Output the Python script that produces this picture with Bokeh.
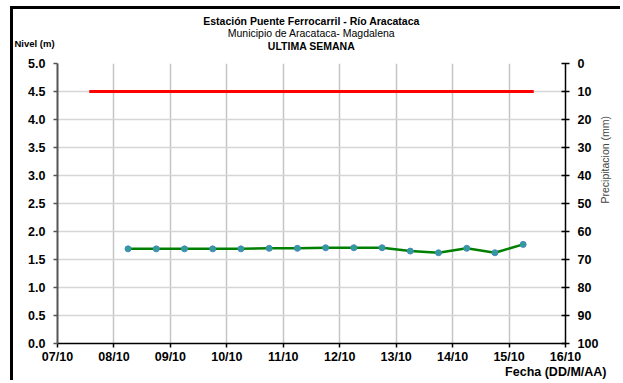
import math
import pandas as pd
from bokeh.plotting import figure
from bokeh.models import (Range1d, LinearAxis, FixedTicker, DatetimeTickFormatter, Title,
                          ColumnDataSource, CustomJSTickFormatter)
from bokeh.embed import file_html
from bokeh.resources import INLINE

# ---------------- data ----------------
fechas = ["2013-10-08 06:00", "2013-10-08 18:00", "2013-10-09 06:00", "2013-10-09 18:00",
          "2013-10-10 06:00", "2013-10-10 18:00", "2013-10-11 06:00", "2013-10-11 18:00",
          "2013-10-12 06:00", "2013-10-12 18:00", "2013-10-13 06:00", "2013-10-13 18:00",
          "2013-10-14 06:00", "2013-10-14 18:00", "2013-10-15 06:00"]
nivel = [1.69, 1.69, 1.69, 1.69, 1.69, 1.70, 1.70, 1.71,
         1.71, 1.71, 1.65, 1.62, 1.70, 1.62, 1.77]
alerta_fechas = ["2013-10-07 13:30", "2013-10-15 10:30"]
alerta_nivel = [4.5, 4.5]
x_inicio, x_fin = "2013-10-07", "2013-10-16"
dias = pd.date_range(x_inicio, x_fin, freq="D")
nivel_ticks = [0.0, 0.5, 1.0, 1.5, 2.0, 2.5, 3.0, 3.5, 4.0, 4.5, 5.0]
precip_ticks = [0, 10, 20, 30, 40, 50, 60, 70, 80, 90, 100]

titulo1 = "Estación Puente Ferrocarril - Río Aracataca"
titulo2 = "Municipio de Aracataca- Magdalena"
titulo3 = "ULTIMA SEMANA"
eje_izq = "Nivel (m)"
eje_der = "Precipitacion (mm)"
eje_x = "Fecha (DD/M/AA)"

# ---------------- figure ----------------
FONT = "Liberation Sans"
TICK_SIZE = "12.5px"
x = pd.to_datetime(fechas)
xs, xe = pd.Timestamp(x_inicio), pd.Timestamp(x_fin)

p = figure(width=620, height=380, output_backend="svg", toolbar_location=None,
           x_axis_type="datetime", title=None,
           x_range=Range1d(xs, xe), y_range=Range1d(0, 5),
           min_border_left=57, min_border_right=47, min_border_top=63, min_border_bottom=37)
p.outline_line_color = None
p.background_fill_color = "white"
p.border_fill_alpha = 0
# black chart-area border on the left and top edges
p.styles = {"box-shadow": "inset 10px 6px 0 0 white, inset 13px 9px 0 0 black"}

tick_ms = [int(d.value // 10**6) for d in dias]
p.xaxis.ticker = FixedTicker(ticks=tick_ms)
fmt = "%d/%m"
p.xaxis.formatter = DatetimeTickFormatter(milliseconds=fmt, seconds=fmt, minsec=fmt, minutes=fmt,
                                          hourmin=fmt, hours=fmt, days=fmt, months=fmt, years=fmt)
p.yaxis.ticker = FixedTicker(ticks=nivel_ticks)

for ax in [p.xaxis[0], p.yaxis[0]]:
    ax.major_label_text_font = FONT
    ax.major_label_text_font_style = "bold"
    ax.major_label_text_font_size = TICK_SIZE
    ax.major_label_text_color = "black"
    ax.minor_tick_line_color = None
    ax.major_tick_in = 0
    ax.major_tick_out = 4
    ax.major_tick_line_width = 1.5

p.yaxis[0].axis_line_color = "#555555"
p.yaxis[0].axis_line_width = 2
p.yaxis[0].major_tick_line_color = "#555555"
p.yaxis[0].major_label_standoff = 8
p.yaxis[0].formatter = CustomJSTickFormatter(code="return tick.toFixed(1);")

p.xaxis[0].axis_line_color = "black"
p.xaxis[0].axis_line_width = 1.5
p.xaxis[0].major_tick_line_color = "black"
p.xaxis[0].major_label_standoff = 2

p.extra_y_ranges = {"precip": Range1d(100, 0)}
ax2 = LinearAxis(y_range_name="precip", ticker=FixedTicker(ticks=precip_ticks))
ax2.major_label_text_font = FONT
ax2.major_label_text_font_style = "bold"
ax2.major_label_text_font_size = TICK_SIZE
ax2.major_label_text_color = "black"
ax2.minor_tick_line_color = None
ax2.major_tick_in = 4
ax2.major_tick_out = 4
ax2.major_tick_line_width = 1.5
ax2.axis_line_width = 1.5
ax2.major_label_standoff = 8
ax2.axis_label = eje_der
ax2.axis_label_text_font = FONT
ax2.axis_label_text_font_style = "normal"
ax2.axis_label_text_font_size = "10.5px"
ax2.axis_label_standoff = 4
props = ax2.properties()
if "axis_label_orientation" in props:
    try:
        ax2.axis_label_orientation = math.pi / 2
    except Exception:
        pass
p.add_layout(ax2, "right")

p.xgrid.ticker = FixedTicker(ticks=tick_ms)
p.xgrid.grid_line_color = "#c4c4c4"
p.xgrid.grid_line_width = 1.5
p.ygrid.ticker = FixedTicker(ticks=nivel_ticks)
p.ygrid.grid_line_color = "#d6d6d6"
p.ygrid.grid_line_width = 1.5

# alert line
p.line(pd.to_datetime(alerta_fechas), alerta_nivel, line_color="#ff0000", line_width=3)

# level series
src = ColumnDataSource(dict(x=x, y=nivel))
p.line("x", "y", source=src, line_color="#008000", line_width=2.5)
p.scatter("x", "y", source=src, size=6, fill_color="#2f9e9a", line_color="#4a86c0", line_width=1)

# titles (first added = closest to the frame)
def title(text, bold, standoff, side="above", align="center", offset=0, size="10.5px"):
    t = Title(text=text, text_font=FONT, text_font_size=size,
              text_font_style="bold" if bold else "normal", align=align, offset=offset,
              standoff=standoff, text_color="black")
    p.add_layout(t, side)

title(" ", False, 2)                                   # spacing row
title(titulo3, True, -9)
title(eje_izq, True, -12, align="left", offset=-43, size="9.5px")
title(titulo2, False, 5)
title(titulo1, True, -9)
title(eje_x, True, -8, side="below", align="right", offset=-41, size="12.5px")

open("out.html", "w").write(file_html(p, INLINE))
